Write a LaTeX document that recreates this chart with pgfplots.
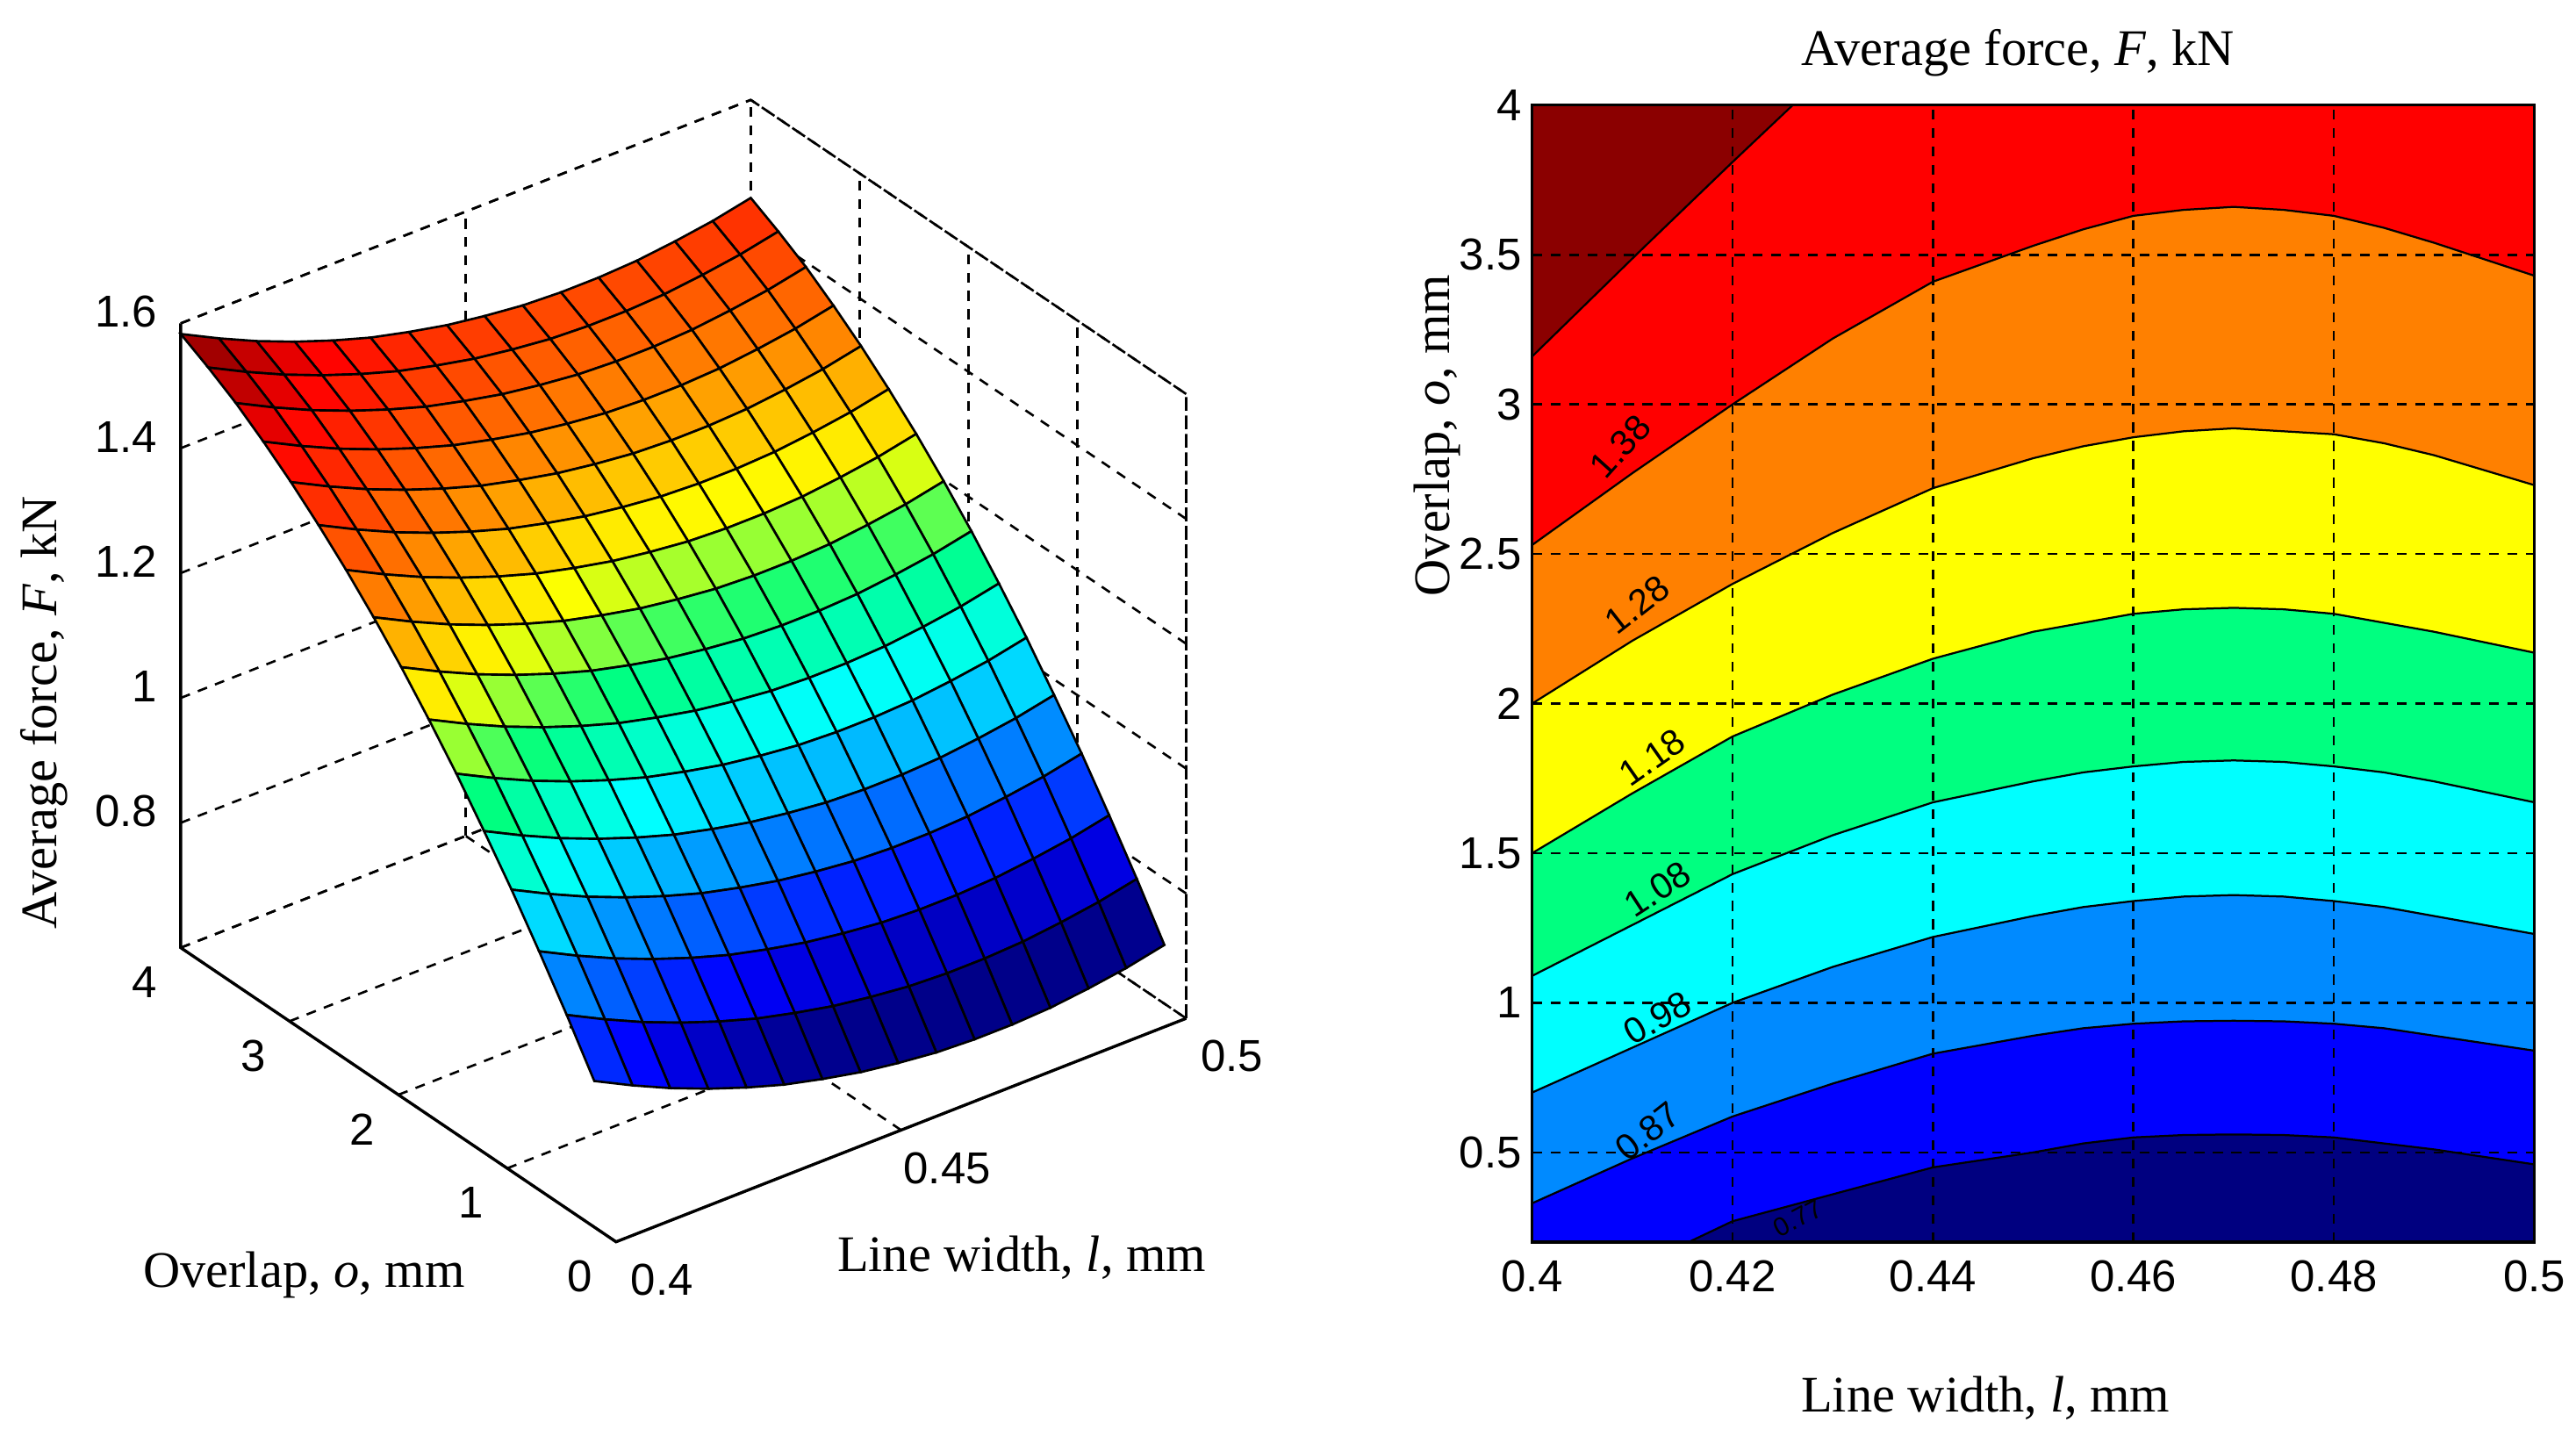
\documentclass[border=0pt]{standalone}
\usepackage{pgfplots}
\pgfplotsset{compat=1.18}
\usepackage{fontspec}
\setmainfont{Liberation Sans}
\newfontfamily\serif{Liberation Serif}
\definecolor{cdred}{RGB}{139,0,0}
\definecolor{cred}{RGB}{255,0,0}
\definecolor{corange}{RGB}{255,128,0}
\definecolor{cyel}{RGB}{255,255,0}
\definecolor{cgreen}{RGB}{0,255,128}
\definecolor{ccyan}{RGB}{0,255,255}
\definecolor{csky}{RGB}{0,138,255}
\definecolor{cblue}{RGB}{0,0,255}
\definecolor{cnavy}{RGB}{0,0,128}
\newcommand{\lab}{\fontsize{15.6}{17}\selectfont\serif}
\newcommand{\tck}{\fontsize{13.6}{15}\selectfont}
\pgfplotsset{
  every axis/.append style={
    /pgf/number format/assume math mode=true,
    tick label style={font=\tck,inner sep=0pt},
    grid style={black,line width=0.7pt,dash pattern=on 3pt off 2.6pt},
    axis line style={black,line width=0.9pt},
    major tick length=0pt,
  }
}
\begin{document}
\begin{tikzpicture}[x=1pt,y=1pt]
\path[use as bounding box] (0,0) rectangle (784,441.5);
% ---------- 3D surface
\begin{axis}[
  at={(55pt,63.6pt)},anchor=south west,
  x={(1735pt,680pt)},y={(-33.125pt,22.375pt)},z={(0pt,190pt)},
  xmin=0.4,xmax=0.5,ymin=0,ymax=4,zmin=0.6,zmax=1.6,
  xtick={0.4,0.45,0.5},ytick={0,1,2,3,4},ztick={0.8,1,1.2,1.4,1.6},
  xticklabels={0.4,0.45,0.5},yticklabels={0,1,2,3,4},zticklabels={0.8,1,1.2,1.4,1.6},
  grid=major,clip=false,
  axis line style={draw=none},
  x tick label style={anchor=center,xshift=14pt,yshift=-11.5pt},
  y tick label style={anchor=center,xshift=-11pt,yshift=-10.5pt},
  z tick label style={anchor=east,xshift=-7pt,yshift=3.5pt},
  colormap={mjet}{rgb255(0cm)=(0,0,128); rgb255(0.6cm)=(0,0,143); rgb255(1.4cm)=(0,0,255); rgb255(2.3cm)=(0,128,255); rgb255(3.2cm)=(0,255,255); rgb255(4.07cm)=(0,255,128); rgb255(4.93cm)=(255,255,0); rgb255(5.9cm)=(255,128,0); rgb255(7.1cm)=(255,0,0); rgb255(8cm)=(128,0,0)},
  xlabel={\lab Line width, \textit{l}, mm},
  ylabel={\lab Overlap, \textit{o}, mm},
  zlabel={\lab Average force, \textit{F}, kN},
  xlabel style={at={(axis cs:0.4429,-1.48,0.6)},anchor=center,rotate=0,sloped=false,yshift=-1pt},
  ylabel style={at={(axis cs:0.3605,0.798,0.6)},anchor=center,rotate=0,sloped=false,yshift=-1pt},
  zlabel style={at={(axis cs:0.376,4,1.062)},anchor=center,sloped=false},
]
\addplot3[black,line width=0.7pt,dash pattern=on 3pt off 2.6pt] coordinates {(.4,4,1.6) (.5,4,1.6) (.5,0,1.6) (.5,0,.6)};
\addplot3[black,line width=0.7pt,dash pattern=on 3pt off 2.6pt] coordinates {(.4,4,.6) (.5,4,.6) (.5,0,.6)};
\addplot3[black,line width=0.7pt,dash pattern=on 3pt off 2.6pt] coordinates {(.5,4,.6) (.5,4,1.6)};
\addplot3[surf,shader=faceted,faceted color=black,line width=0.7pt,mesh/rows=16,mesh/cols=16] coordinates {
(.4,.2,.834) (.4067,.2,.803) (.4133,.2,.775) (.42,.2,.750) (.4267,.2,.728) (.4333,.2,.709) (.44,.2,.694) (.4467,.2,.681) (.4533,.2,.672) (.46,.2,.665) (.4667,.2,.662) (.4733,.2,.662) (.48,.2,.665) (.4867,.2,.672) (.4933,.2,.681) (.5,.2,.694)
(.4,.453,.910) (.4067,.453,.879) (.4133,.453,.851) (.42,.453,.826) (.4267,.453,.804) (.4333,.453,.785) (.44,.453,.770) (.4467,.453,.757) (.4533,.453,.748) (.46,.453,.741) (.4667,.453,.738) (.4733,.453,.738) (.48,.453,.741) (.4867,.453,.748) (.4933,.453,.757) (.5,.453,.770)
(.4,.707,.982) (.4067,.707,.951) (.4133,.707,.923) (.42,.707,.898) (.4267,.707,.876) (.4333,.707,.857) (.44,.707,.842) (.4467,.707,.829) (.4533,.707,.820) (.46,.707,.813) (.4667,.707,.810) (.4733,.707,.810) (.48,.707,.813) (.4867,.707,.820) (.4933,.707,.829) (.5,.707,.842)
(.4,.96,1.051) (.4067,.96,1.020) (.4133,.96,.992) (.42,.96,.967) (.4267,.96,.945) (.4333,.96,.926) (.44,.96,.911) (.4467,.96,.898) (.4533,.96,.889) (.46,.96,.882) (.4667,.96,.879) (.4733,.96,.879) (.48,.96,.882) (.4867,.96,.889) (.4933,.96,.898) (.5,.96,.911)
(.4,1.213,1.115) (.4067,1.213,1.084) (.4133,1.213,1.056) (.42,1.213,1.031) (.4267,1.213,1.009) (.4333,1.213,.990) (.44,1.213,.975) (.4467,1.213,.962) (.4533,1.213,.953) (.46,1.213,.946) (.4667,1.213,.943) (.4733,1.213,.943) (.48,1.213,.946) (.4867,1.213,.953) (.4933,1.213,.962) (.5,1.213,.975)
(.4,1.467,1.177) (.4067,1.467,1.146) (.4133,1.467,1.118) (.42,1.467,1.093) (.4267,1.467,1.071) (.4333,1.467,1.052) (.44,1.467,1.037) (.4467,1.467,1.024) (.4533,1.467,1.015) (.46,1.467,1.008) (.4667,1.467,1.005) (.4733,1.467,1.005) (.48,1.467,1.008) (.4867,1.467,1.015) (.4933,1.467,1.024) (.5,1.467,1.037)
(.4,1.72,1.234) (.4067,1.72,1.203) (.4133,1.72,1.175) (.42,1.72,1.150) (.4267,1.72,1.128) (.4333,1.72,1.109) (.44,1.72,1.094) (.4467,1.72,1.081) (.4533,1.72,1.072) (.46,1.72,1.065) (.4667,1.72,1.062) (.4733,1.72,1.062) (.48,1.72,1.065) (.4867,1.72,1.072) (.4933,1.72,1.081) (.5,1.72,1.094)
(.4,1.973,1.288) (.4067,1.973,1.257) (.4133,1.973,1.229) (.42,1.973,1.204) (.4267,1.973,1.182) (.4333,1.973,1.163) (.44,1.973,1.148) (.4467,1.973,1.135) (.4533,1.973,1.126) (.46,1.973,1.119) (.4667,1.973,1.116) (.4733,1.973,1.116) (.48,1.973,1.119) (.4867,1.973,1.126) (.4933,1.973,1.135) (.5,1.973,1.148)
(.4,2.227,1.338) (.4067,2.227,1.307) (.4133,2.227,1.279) (.42,2.227,1.254) (.4267,2.227,1.232) (.4333,2.227,1.213) (.44,2.227,1.198) (.4467,2.227,1.185) (.4533,2.227,1.176) (.46,2.227,1.169) (.4667,2.227,1.166) (.4733,2.227,1.166) (.48,2.227,1.169) (.4867,2.227,1.176) (.4933,2.227,1.185) (.5,2.227,1.198)
(.4,2.48,1.384) (.4067,2.48,1.353) (.4133,2.48,1.325) (.42,2.48,1.300) (.4267,2.48,1.278) (.4333,2.48,1.259) (.44,2.48,1.244) (.4467,2.48,1.231) (.4533,2.48,1.222) (.46,2.48,1.215) (.4667,2.48,1.212) (.4733,2.48,1.212) (.48,2.48,1.215) (.4867,2.48,1.222) (.4933,2.48,1.231) (.5,2.48,1.244)
(.4,2.733,1.426) (.4067,2.733,1.395) (.4133,2.733,1.367) (.42,2.733,1.342) (.4267,2.733,1.320) (.4333,2.733,1.301) (.44,2.733,1.286) (.4467,2.733,1.273) (.4533,2.733,1.264) (.46,2.733,1.257) (.4667,2.733,1.254) (.4733,2.733,1.254) (.48,2.733,1.257) (.4867,2.733,1.264) (.4933,2.733,1.273) (.5,2.733,1.286)
(.4,2.987,1.465) (.4067,2.987,1.434) (.4133,2.987,1.406) (.42,2.987,1.381) (.4267,2.987,1.359) (.4333,2.987,1.340) (.44,2.987,1.325) (.4467,2.987,1.312) (.4533,2.987,1.303) (.46,2.987,1.296) (.4667,2.987,1.293) (.4733,2.987,1.293) (.48,2.987,1.296) (.4867,2.987,1.303) (.4933,2.987,1.312) (.5,2.987,1.325)
(.4,3.24,1.500) (.4067,3.24,1.469) (.4133,3.24,1.441) (.42,3.24,1.416) (.4267,3.24,1.394) (.4333,3.24,1.375) (.44,3.24,1.360) (.4467,3.24,1.347) (.4533,3.24,1.338) (.46,3.24,1.331) (.4667,3.24,1.328) (.4733,3.24,1.328) (.48,3.24,1.331) (.4867,3.24,1.338) (.4933,3.24,1.347) (.5,3.24,1.360)
(.4,3.493,1.532) (.4067,3.493,1.501) (.4133,3.493,1.473) (.42,3.493,1.448) (.4267,3.493,1.426) (.4333,3.493,1.407) (.44,3.493,1.392) (.4467,3.493,1.379) (.4533,3.493,1.370) (.46,3.493,1.363) (.4667,3.493,1.360) (.4733,3.493,1.360) (.48,3.493,1.363) (.4867,3.493,1.370) (.4933,3.493,1.379) (.5,3.493,1.392)
(.4,3.747,1.559) (.4067,3.747,1.528) (.4133,3.747,1.500) (.42,3.747,1.475) (.4267,3.747,1.453) (.4333,3.747,1.434) (.44,3.747,1.419) (.4467,3.747,1.406) (.4533,3.747,1.397) (.46,3.747,1.390) (.4667,3.747,1.387) (.4733,3.747,1.387) (.48,3.747,1.390) (.4867,3.747,1.397) (.4933,3.747,1.406) (.5,3.747,1.419)
(.4,4,1.583) (.4067,4,1.552) (.4133,4,1.524) (.42,4,1.499) (.4267,4,1.477) (.4333,4,1.458) (.44,4,1.443) (.4467,4,1.430) (.4533,4,1.421) (.46,4,1.414) (.4667,4,1.411) (.4733,4,1.411) (.48,4,1.414) (.4867,4,1.421) (.4933,4,1.430) (.5,4,1.443)
};
\addplot3[black,line width=0.9pt] coordinates {(.5,0,.6) (.4,0,.6) (.4,4,.6) (.4,4,1.6)};
\end{axis}
% ---------- filled contour
\begin{axis}[
  at={(466.3pt,63.5pt)},anchor=south west,scale only axis,
  width=305pt,height=346pt,
  xmin=0.4,xmax=0.5,ymin=0.2,ymax=4,
  xtick={0.4,0.42,0.44,0.46,0.48,0.5},ytick={0.5,1,1.5,2,2.5,3,3.5,4},
  xticklabels={0.4,0.42,0.44,0.46,0.48,0.5},yticklabels={0.5,1,1.5,2,2.5,3,3.5,4},
  grid=major,axis on top,
  x tick label style={yshift=-5.5pt},
  y tick label style={xshift=-3pt},
  xlabel={\lab Line width, \textit{l}, mm},
  ylabel={\lab Overlap, \textit{o}, mm},
  title={\lab Average force, \textit{F}, kN},
  xlabel style={at={(axis description cs:0.4525,-0.1375)},anchor=center},
  ylabel style={at={(axis description cs:-0.095,0.7095)},anchor=center},
  title style={at={(axis description cs:0.485,1.049)},anchor=center,yshift=-7pt},
  clip=true,
]
\addplot[fill=cdred,draw=none] coordinates {(.4,.2) (.5,.2) (.5,4) (.4,4)} -- cycle;
\addplot[fill=cred,draw=black,line width=0.6pt] coordinates {(.4,3.16) (.411,3.52) (.42,3.81) (.426,4) (.5,4) (.5,.2) (.4,.2)} -- cycle;
\addplot[fill=corange,draw=black,line width=0.6pt] coordinates {(.4,2.53) (.41,2.77) (.42,3.0) (.43,3.22) (.44,3.41) (.45,3.53) (.455,3.585) (.46,3.63) (.465,3.65) (.47,3.66) (.475,3.65) (.48,3.63) (.485,3.59) (.49,3.54) (.5,3.43) (.5,.2) (.4,.2)} -- cycle;
\addplot[fill=cyel,draw=black,line width=0.6pt] coordinates {(.4,2.0) (.41,2.21) (.42,2.4) (.43,2.57) (.44,2.72) (.45,2.82) (.455,2.86) (.46,2.89) (.465,2.91) (.47,2.92) (.475,2.91) (.48,2.9) (.485,2.87) (.49,2.83) (.5,2.73) (.5,.2) (.4,.2)} -- cycle;
\addplot[fill=cgreen,draw=black,line width=0.6pt] coordinates {(.4,1.5) (.41,1.7) (.42,1.89) (.43,2.03) (.44,2.15) (.45,2.24) (.455,2.27) (.46,2.3) (.465,2.315) (.47,2.32) (.475,2.315) (.48,2.3) (.485,2.27) (.49,2.24) (.5,2.17) (.5,.2) (.4,.2)} -- cycle;
\addplot[fill=ccyan,draw=black,line width=0.6pt] coordinates {(.4,1.09) (.41,1.26) (.42,1.43) (.43,1.56) (.44,1.67) (.45,1.74) (.455,1.77) (.46,1.79) (.465,1.805) (.47,1.81) (.475,1.805) (.48,1.79) (.485,1.77) (.49,1.74) (.5,1.67) (.5,.2) (.4,.2)} -- cycle;
\addplot[fill=csky,draw=black,line width=0.6pt] coordinates {(.4,.7) (.41,.85) (.42,1.0) (.43,1.12) (.44,1.22) (.45,1.29) (.455,1.32) (.46,1.34) (.465,1.355) (.47,1.36) (.475,1.355) (.48,1.34) (.485,1.32) (.49,1.29) (.5,1.23) (.5,.2) (.4,.2)} -- cycle;
\addplot[fill=cblue,draw=black,line width=0.6pt] coordinates {(.4,.33) (.41,.48) (.42,.62) (.43,.73) (.44,.83) (.45,.89) (.455,.915) (.46,.93) (.465,.938) (.47,.94) (.475,.938) (.48,.93) (.485,.915) (.49,.89) (.5,.84) (.5,.2) (.4,.2)} -- cycle;
\addplot[fill=cnavy,draw=black,line width=0.6pt] coordinates {(.4156,.2) (.42,.27) (.43,.36) (.44,.45) (.45,.5) (.455,.53) (.46,.55) (.465,.558) (.47,.56) (.475,.558) (.48,.55) (.485,.53) (.49,.51) (.5,.46) (.5,.2)} -- cycle;
\node[font=\fontsize{11}{12}\selectfont,rotate=48] at (axis cs:.4088,2.86) {1.38};
\node[font=\fontsize{11}{12}\selectfont,rotate=38] at (axis cs:.4105,2.33) {1.28};
\node[font=\fontsize{11}{12}\selectfont,rotate=35] at (axis cs:.4120,1.82) {1.18};
\node[font=\fontsize{11}{12}\selectfont,rotate=33] at (axis cs:.4125,1.38) {1.08};
\node[font=\fontsize{11}{12}\selectfont,rotate=30] at (axis cs:.4125,.95) {0.98};
\node[font=\fontsize{11}{12}\selectfont,rotate=38] at (axis cs:.4115,.57) {0.87};
\node[font=\fontsize{8}{10}\selectfont,rotate=28] at (axis cs:.4265,.28) {0.77};
\end{axis}
\end{tikzpicture}
\end{document}
